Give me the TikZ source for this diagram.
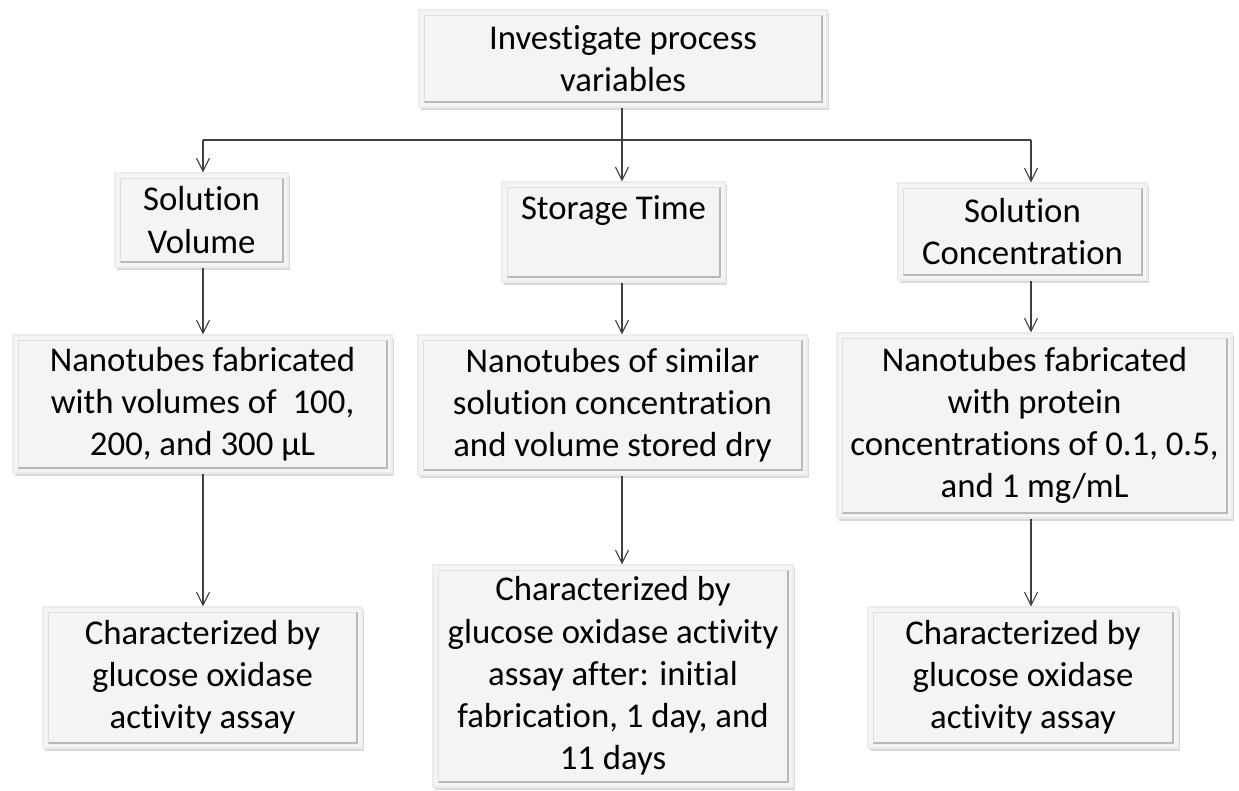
\documentclass[tikz,border=0pt]{standalone}
\usepackage{fontspec}
\setmainfont[Ligatures={NoCommon,NoRare,NoContextual}, Contextuals=NoAlternate]{Carlito}
\usetikzlibrary{arrows.meta,shadows}
\definecolor{boxfill}{RGB}{244,244,244}
\definecolor{linegray}{RGB}{64,64,64}
\newcommand{\boxfont}{\fontsize{19.8}{24}\selectfont}
\begin{document}
\begin{tikzpicture}[x=0.02cm, y=-0.02cm,
	proc/.style={draw=gray!15, fill=boxfill, line width=0.8pt, align=center, inner sep=0pt, font=\boxfont,
		drop shadow={shadow xshift=1pt, shadow yshift=-1.5pt, opacity=0.3},
		path picture={
			\draw[gray!55, line width=1pt] ([shift={(3pt,3pt)}]path picture bounding box.south west) -- ([shift={(-3pt,3pt)}]path picture bounding box.south east) -- ([shift={(-3pt,-3pt)}]path picture bounding box.north east);
			\draw[gray!25, line width=0.6pt] ([shift={(3pt,3pt)}]path picture bounding box.south west) -- ([shift={(3pt,-3pt)}]path picture bounding box.north west) -- ([shift={(-3pt,-3pt)}]path picture bounding box.north east);
		}},
	link/.style={draw=linegray, line width=0.6pt},
	arrow/.style={link, -{Straight Barb[length=2.6mm, width=2.6mm]}}]
	\useasboundingbox (0,0) rectangle (1239,790);

	\node[proc, minimum width=8.16cm, minimum height=1.94cm] at (623,58.5) (top) {Investigate process\\variables};

	\node[proc, minimum width=3.46cm, minimum height=1.88cm] at (201.5,220) (vol) {Solution\\Volume};
	\node[proc, minimum width=4.46cm, minimum height=2cm] at (613.5,232) (stor) {\raisebox{-4pt}{Storage Time}\\\strut};
	\node[proc, minimum width=4.98cm, minimum height=1.94cm] at (1022.5,231.5) (conc) {Solution\\Concentration};

	\node[proc, minimum width=7.58cm, minimum height=2.76cm] at (202.5,404) (nvol) {Nanotubes fabricated\\with volumes of~ 100,\\200, and 300 µL};
	\node[proc, minimum width=7.78cm, minimum height=2.8cm] at (612.5,405) (nstor) {Nanotubes of similar\\solution concentration\\and volume stored dry};
	\node[proc, minimum width=7.9cm, minimum height=3.7cm] at (1034.5,425.5) (nconc) {Nanotubes fabricated\\with protein\\concentrations of 0.1, 0.5,\\and 1 mg/mL};

	\node[proc, minimum width=6.38cm, minimum height=2.82cm] at (202.5,677.5) (cvol) {Characterized by\\glucose oxidase\\activity assay};
	\node[proc, minimum width=7.2cm, minimum height=4.44cm] at (613,676) (cstor) {Characterized by\\glucose oxidase activity\\assay after: initial\\fabrication, 1 day, and\\11 days};
	\node[proc, minimum width=6.2cm, minimum height=2.82cm] at (1023,677.5) (cconc) {Characterized by\\glucose oxidase\\activity assay};

	% branch line
	\coordinate (colA) at (203,140);
	\coordinate (colB) at (622,140);
	\coordinate (colC) at (1031,140);
	\draw[link] (top.south -| colB) -- (colB);
	\draw[link] (colA) -- (colC);
	\draw[arrow] (colA) -- (vol.north -| colA);
	\draw[arrow] (colB) -- (stor.north -| colB);
	\draw[arrow] (colC) -- (conc.north -| colC);

	% columns
	\draw[arrow] (vol.south -| colA) -- (nvol.north -| colA);
	\draw[arrow] (stor.south -| colB) -- (nstor.north -| colB);
	\draw[arrow] (conc.south -| colC) -- (nconc.north -| colC);

	\draw[arrow] (nvol.south -| colA) -- (cvol.north -| colA);
	\draw[arrow] (nstor.south -| colB) -- (cstor.north -| colB);
	\draw[arrow] (nconc.south -| colC) -- (cconc.north -| colC);
\end{tikzpicture}
\end{document}
